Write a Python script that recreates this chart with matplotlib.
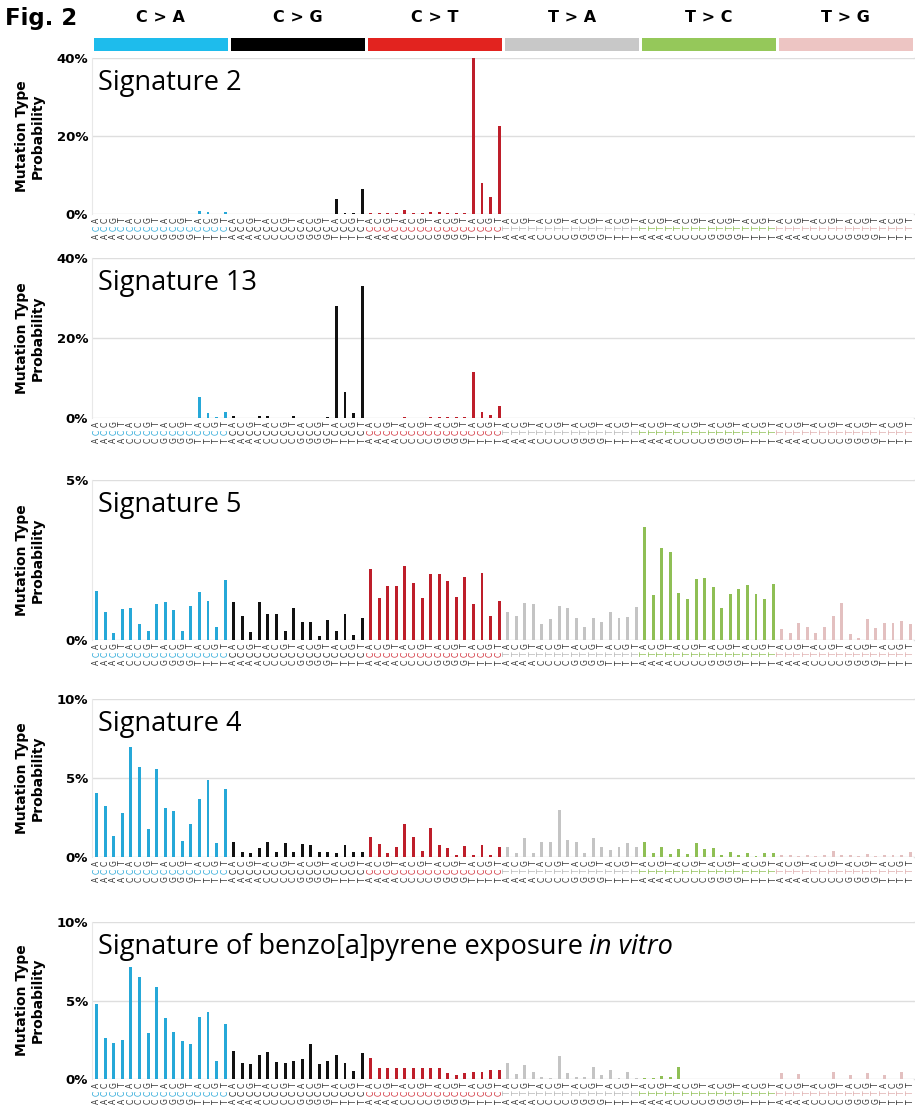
import numpy as np
import matplotlib.pyplot as plt
from matplotlib import transforms

# mutation classes and trinucleotide context
mut_types = ['C>A', 'C>G', 'C>T', 'T>A', 'T>C', 'T>G']
header_labels = ['C > A', 'C > G', 'C > T', 'T > A', 'T > C', 'T > G']
bases = ['A', 'C', 'G', 'T']

head_colors = ['#1ebcec', '#000000', '#e2231f', '#c8c8c8', '#95c85a', '#edc5c3']
bar_colors = ['#26a8d8', '#111111', '#be1e2a', '#c4c4c4', '#8fbf55', '#e3c0c0']
mid_colors = ['#2aa8d8', '#222222', '#d0303a', '#b8b8b8', '#8fbf55', '#e0b0b0']

# probabilities in %, 96 contexts (C>A, C>G, C>T, T>A, T>C, T>G; 5' base outer, 3' base inner)
sig2 = [
    0.1, 0.1, 0.1, 0.1, 0.1, 0.1, 0.1, 0.1, 0.1, 0.1, 0.1, 0.1, 0.8, 0.4, 0.1, 0.6,
    0.1, 0.1, 0.1, 0.1, 0.1, 0.1, 0.1, 0.1, 0.1, 0.1, 0.1, 0.1, 3.8, 0.3, 0.2, 6.4,
    0.3, 0.2, 0.2, 0.2, 0.9, 0.2, 0.2, 0.5, 0.4, 0.2, 0.2, 0.2, 40.0, 8.0, 4.4, 22.6,
    0.1, 0.1, 0.1, 0.1, 0.1, 0.1, 0.1, 0.1, 0.1, 0.1, 0.1, 0.1, 0.1, 0.1, 0.1, 0.1,
    0.1, 0.1, 0.1, 0.1, 0.1, 0.1, 0.1, 0.1, 0.1, 0.1, 0.1, 0.1, 0.1, 0.1, 0.1, 0.1,
    0.1, 0.1, 0.1, 0.1, 0.1, 0.1, 0.1, 0.1, 0.1, 0.1, 0.1, 0.1, 0.1, 0.1, 0.1, 0.1,
]
sig13 = [
    0.1, 0.1, 0.1, 0.1, 0.1, 0.1, 0.1, 0.1, 0.1, 0.1, 0.1, 0.1, 5.2, 1.2, 0.2, 1.5,
    0.5, 0.1, 0.1, 0.5, 0.4, 0.1, 0.1, 0.6, 0.1, 0.1, 0.1, 0.3, 28.0, 6.5, 1.2, 33.0,
    0.1, 0.1, 0.1, 0.1, 0.2, 0.1, 0.1, 0.2, 0.2, 0.2, 0.3, 0.3, 11.5, 1.5, 0.8, 3.0,
    0.1, 0.1, 0.1, 0.1, 0.1, 0.1, 0.1, 0.1, 0.1, 0.1, 0.1, 0.1, 0.1, 0.1, 0.1, 0.1,
    0.1, 0.1, 0.1, 0.1, 0.1, 0.1, 0.1, 0.1, 0.1, 0.1, 0.1, 0.1, 0.1, 0.1, 0.1, 0.1,
    0.1, 0.1, 0.1, 0.1, 0.1, 0.1, 0.1, 0.1, 0.1, 0.1, 0.1, 0.1, 0.1, 0.1, 0.1, 0.1,
]
sig5 = [
    1.53, 0.89, 0.23, 0.96, 0.99, 0.49, 0.28, 1.13, 1.20, 0.94, 0.29, 1.06, 1.50, 1.23, 0.40, 1.87,
    1.20, 0.76, 0.24, 1.20, 0.80, 0.80, 0.28, 0.99, 0.57, 0.55, 0.13, 0.63, 0.28, 0.80, 0.15, 0.70,
    2.22, 1.30, 1.70, 1.70, 2.31, 1.79, 1.32, 2.07, 2.05, 1.84, 1.35, 1.98, 1.13, 2.10, 0.76, 1.22,
    0.89, 0.76, 1.17, 1.11, 0.50, 0.65, 1.06, 0.99, 0.68, 0.42, 0.70, 0.55, 0.89, 0.70, 0.72, 1.04,
    3.54, 1.41, 2.89, 2.76, 1.46, 1.28, 1.91, 1.95, 1.67, 0.99, 1.44, 1.59, 1.72, 1.44, 1.28, 1.75,
    0.33, 0.23, 0.54, 0.42, 0.21, 0.40, 0.76, 1.17, 0.18, 0.05, 0.65, 0.36, 0.54, 0.54, 0.60, 0.50,
]
sig4 = [
    4.03, 3.25, 1.35, 2.81, 6.94, 5.72, 1.77, 5.57, 3.12, 2.93, 1.03, 2.09, 3.65, 4.87, 0.91, 4.30,
    0.97, 0.30, 0.23, 0.59, 0.97, 0.30, 0.86, 0.34, 0.80, 0.76, 0.30, 0.34, 0.27, 0.76, 0.30, 0.34,
    1.29, 0.80, 0.23, 0.61, 2.09, 1.24, 0.40, 1.81, 0.76, 0.59, 0.10, 0.70, 0.10, 0.76, 0.10, 0.65,
    0.65, 0.27, 1.18, 0.27, 0.97, 0.97, 2.97, 1.08, 0.97, 0.23, 1.22, 0.65, 0.44, 0.65, 0.86, 0.61,
    0.97, 0.23, 0.65, 0.17, 0.50, 0.19, 0.91, 0.50, 0.55, 0.13, 0.34, 0.13, 0.27, 0.06, 0.27, 0.27,
    0.10, 0.10, 0.05, 0.10, 0.05, 0.15, 0.35, 0.10, 0.10, 0.05, 0.20, 0.05, 0.10, 0.10, 0.10, 0.30,
]
sig_bap = [
    4.76, 2.63, 2.31, 2.48, 7.15, 6.48, 2.95, 5.84, 3.90, 2.97, 2.44, 2.23, 3.97, 4.25, 1.15, 3.48,
    1.80, 1.00, 0.93, 1.53, 1.74, 1.06, 1.04, 1.17, 1.25, 2.21, 0.95, 1.17, 1.53, 1.04, 0.53, 1.64,
    1.36, 0.68, 0.68, 0.68, 0.68, 0.68, 0.68, 0.68, 0.68, 0.36, 0.25, 0.36, 0.45, 0.45, 0.55, 0.55,
    1.04, 0.30, 0.89, 0.47, 0.15, 0.05, 1.49, 0.40, 0.15, 0.15, 0.79, 0.25, 0.57, 0.05, 0.47, 0.05,
    0.05, 0.05, 0.20, 0.10, 0.75, 0.03, 0.03, 0.03, 0.03, 0.03, 0.03, 0.03, 0.03, 0.03, 0.03, 0.03,
    0.40, 0.02, 0.35, 0.02, 0.02, 0.02, 0.45, 0.02, 0.25, 0.02, 0.40, 0.02, 0.25, 0.02, 0.45, 0.02,
]

titles = ['Signature 2', 'Signature 13', 'Signature 5', 'Signature 4',
          'Signature of benzo[a]pyrene exposure']
ymaxes = [40, 40, 5, 10, 10]
yticks = [[0, 20, 40], [0, 20, 40], [0, 5], [0, 5, 10], [0, 5, 10]]
series = [sig2, sig13, sig5, sig4, sig_bap]

W, H = 915, 1106
fig = plt.figure(figsize=(W / 100, H / 100), dpi=100)
fig.patch.set_facecolor('white')

x0, xw = 92.4, 822.0
panel_px = [(58, 214), (258, 418), (480, 640), (699, 857), (922, 1079)]

x = np.arange(96)
grp = np.repeat(np.arange(6), 16)
colors = [bar_colors[g] for g in grp]
five = [bases[(i % 16) // 4] for i in range(96)]
three = [bases[i % 4] for i in range(96)]
mid = [mut_types[g][0] for g in grp]

# header with mutation classes
axh = fig.add_axes([x0 / W, 1 - 51 / H, (xw + 10) / W, 13 / H])
axh.bar(np.arange(6) * 16 + 7.5, 1, width=15.6, color=head_colors)
axh.set_xlim(-0.5, 95.5 + 10 * 96 / xw)
axh.set_ylim(0, 1)
axh.axis('off')
for g in range(6):
    axh.text(g * 16 + 7.5, 1, header_labels[g], ha='center', va='center',
             fontsize=11.5, fontweight='bold',
             transform=transforms.offset_copy(axh.get_xaxis_transform(), fig=fig, y=21, units='dots'))
fig.text(5 / W, 1 - 18 / H, 'Fig. 2', fontsize=16.5, fontweight='bold', va='center', ha='left')

for k, (top, bot) in enumerate(panel_px):
    ax = fig.add_axes([x0 / W, 1 - bot / H, xw / W, (bot - top) / H])
    ax.bar(x, series[k], width=0.34, color=colors, zorder=2)
    ax.set_xlim(-0.5, 95.5)
    ax.set_ylim(0, ymaxes[k])
    for t in yticks[k]:
        ax.axhline(t, color='#dedede', lw=1, zorder=0)
        ax.plot([95.5, 97], [t, t], color='#dedede', lw=1, zorder=0, clip_on=False)
    for s in ['top', 'right', 'bottom']:
        ax.spines[s].set_visible(False)
    ax.spines['left'].set_color('#e8e8e8')
    ax.set_xticks([])
    ax.set_yticks(yticks[k], [f'{t}%' for t in yticks[k]])
    ax.tick_params(axis='y', length=0, pad=3, labelsize=9.5)
    for lab in ax.get_yticklabels():
        lab.set_fontweight('bold')

    # trinucleotide context labels
    for row, (letters, dy) in enumerate([(three, 6), (mid, 14), (five, 22.5)]):
        tr = transforms.offset_copy(ax.get_xaxis_transform(), fig=fig, y=-dy, units='dots')
        for i in range(96):
            c = mid_colors[grp[i]] if row == 1 else '#333333'
            ax.text(i, 0, letters[i], rotation=90, ha='center', va='center',
                    fontsize=5.5, color=c, transform=tr, clip_on=False)

    t = ax.text(0.007, 0.93, titles[k], transform=ax.transAxes, va='top', ha='left',
                fontsize=19.5, family='Open Sans')
    if k == 4:
        fig.canvas.draw()
        bb = t.get_window_extent()
        xe = ax.transAxes.inverted().transform((bb.x1 + 6, bb.y0))[0]
        ax.text(xe, 0.93, 'in vitro', transform=ax.transAxes, va='top', ha='left',
                fontsize=19.5, family='Open Sans', style='italic')

    fig.text(30 / W, 1 - (top + bot) / 2 / H, 'Mutation Type\nProbability', rotation=90,
             ha='center', va='center', fontsize=10, fontweight='bold', multialignment='center')

fig.savefig('out.png', dpi=100)
